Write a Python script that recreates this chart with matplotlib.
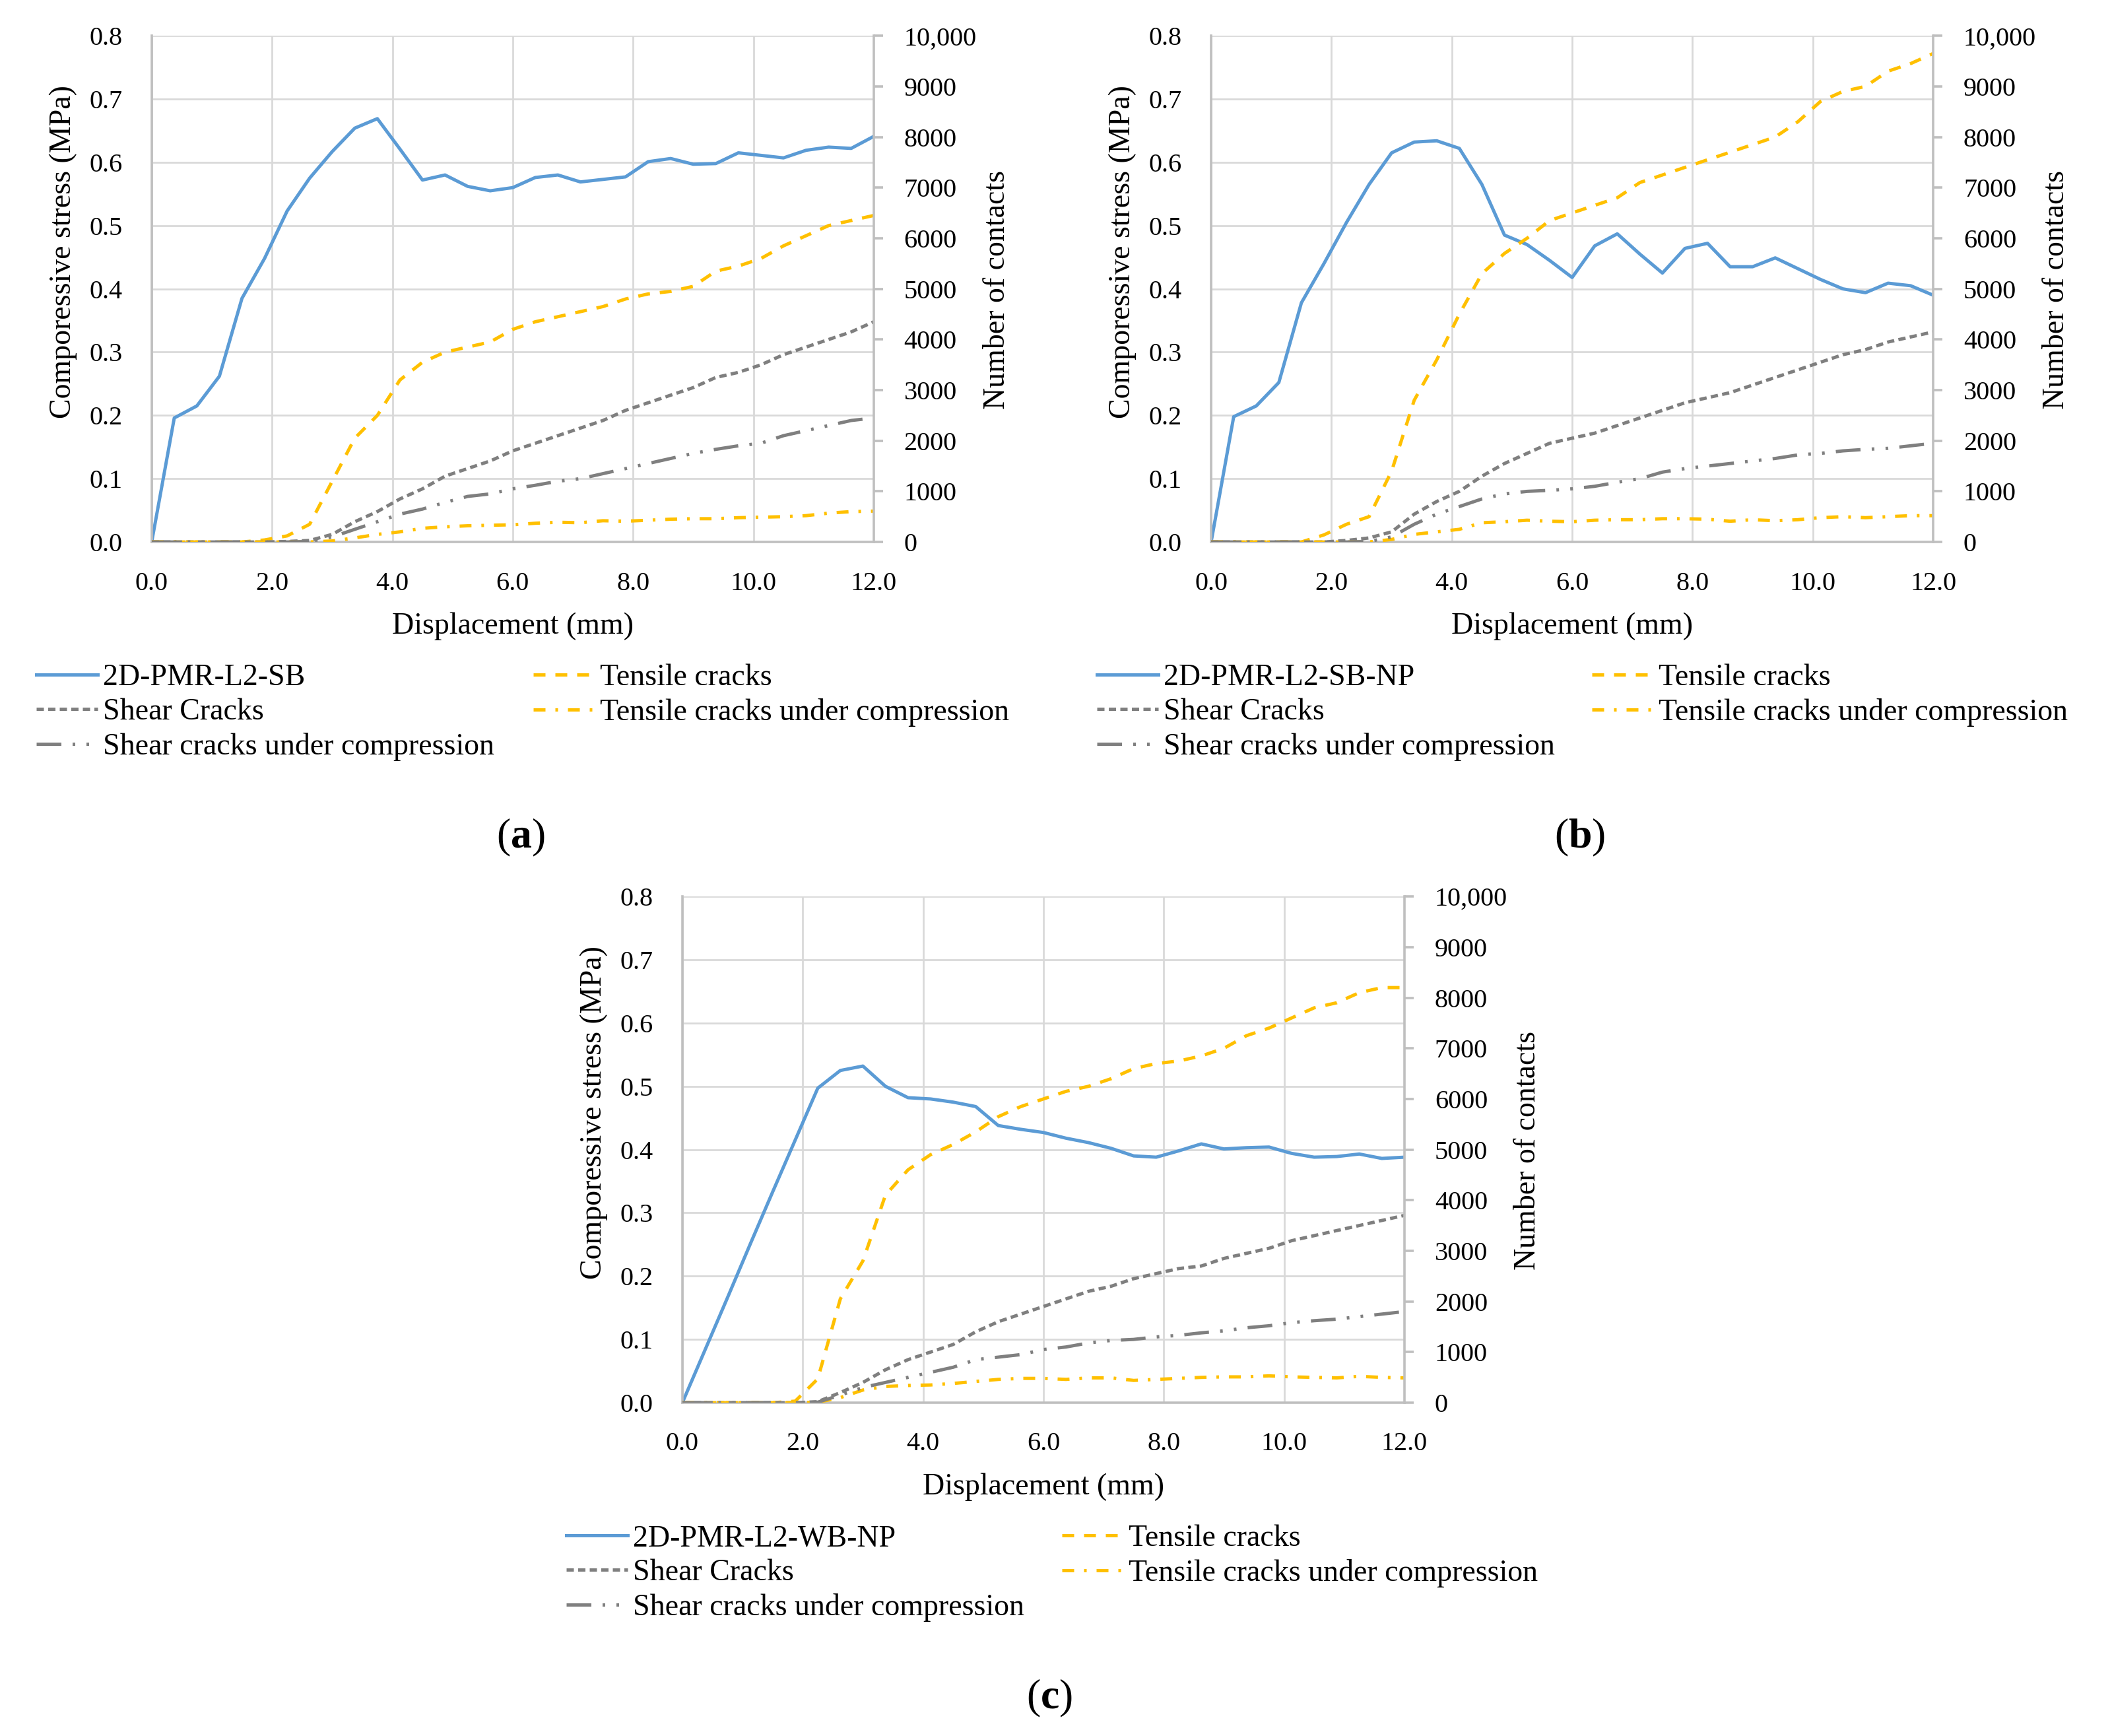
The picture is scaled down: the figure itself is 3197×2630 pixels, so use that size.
import matplotlib
matplotlib.use('Agg')
import matplotlib.pyplot as plt
from matplotlib.ticker import MultipleLocator, FuncFormatter

plt.rcParams['font.family'] = ['Liberation Serif', 'DejaVu Serif']
plt.rcParams['mathtext.fontset'] = 'custom'
plt.rcParams['mathtext.rm'] = 'Liberation Serif'
plt.rcParams['mathtext.bf'] = 'Liberation Serif:bold'

# ---------------- data ----------------
displacement = [0.0, 0.375, 0.75, 1.125, 1.5, 1.875, 2.25, 2.625, 3.0, 3.375, 3.75,
                4.125, 4.5, 4.875, 5.25, 5.625, 6.0, 6.375, 6.75, 7.125, 7.5, 7.875,
                8.25, 8.625, 9.0, 9.375, 9.75, 10.125, 10.5, 10.875, 11.25, 11.625, 12.0]

series_names = ["Tensile cracks", "Shear Cracks", "Tensile cracks under compression",
                "Shear cracks under compression"]

# (a) 2D-PMR-L2-SB
name_a = "2D-PMR-L2-SB"
stress_a = [0.000, 0.196, 0.215, 0.262, 0.385, 0.448, 0.523, 0.575, 0.617, 0.654, 0.669,
            0.621, 0.572, 0.580, 0.562, 0.555, 0.560, 0.576, 0.580, 0.569, 0.573, 0.577,
            0.601, 0.606, 0.597, 0.598, 0.615, 0.611, 0.607, 0.619, 0.624, 0.622, 0.641]
tensile_a = [0, 0, 0, 0, 0, 40, 120, 350, 1200, 2050, 2500, 3200, 3550, 3750, 3850, 3950,
             4200, 4350, 4450, 4550, 4650, 4800, 4900, 4950, 5050, 5350, 5450, 5600, 5850,
             6050, 6250, 6350, 6450]
shear_a = [0, 0, 0, 0, 0, 0, 10, 30, 150, 400, 600, 850, 1050, 1300, 1450, 1600, 1800,
           1950, 2100, 2250, 2400, 2600, 2750, 2900, 3050, 3250, 3350, 3500, 3700, 3850,
           4000, 4150, 4350]
tensile_comp_a = [0, 0, 0, 0, 0, 0, 0, 0, 20, 80, 150, 200, 270, 300, 320, 330, 340, 370,
                  390, 380, 420, 410, 430, 450, 460, 460, 480, 490, 500, 520, 570, 600, 610]
shear_comp_a = [0, 0, 0, 0, 0, 0, 0, 10, 100, 250, 400, 550, 650, 780, 900, 950, 1050,
                1120, 1200, 1250, 1350, 1450, 1550, 1650, 1750, 1830, 1900, 1950, 2100,
                2200, 2300, 2400, 2450]

# (b) 2D-PMR-L2-SB-NP
name_b = "2D-PMR-L2-SB-NP"
stress_b = [0.000, 0.198, 0.215, 0.252, 0.378, 0.440, 0.505, 0.565, 0.615, 0.632, 0.634,
            0.622, 0.565, 0.485, 0.470, 0.445, 0.418, 0.468, 0.487, 0.455, 0.425, 0.464,
            0.472, 0.435, 0.435, 0.449, 0.432, 0.415, 0.400, 0.394, 0.409, 0.405, 0.390]
tensile_b = [0, 0, 0, 0, 0, 140, 350, 500, 1400, 2800, 3600, 4500, 5300, 5700, 6000, 6350,
             6500, 6650, 6800, 7100, 7250, 7400, 7550, 7700, 7850, 8000, 8300, 8700, 8900,
             9000, 9300, 9450, 9650]
shear_b = [0, 0, 0, 0, 0, 0, 30, 80, 200, 550, 800, 1000, 1300, 1550, 1750, 1950, 2050,
           2150, 2300, 2450, 2600, 2750, 2850, 2950, 3100, 3250, 3400, 3550, 3700, 3800,
           3950, 4050, 4150]
tensile_comp_b = [0, 0, 0, 0, 0, 0, 0, 0, 50, 150, 200, 250, 380, 400, 430, 410, 400, 430,
                  440, 440, 460, 460, 450, 410, 440, 420, 440, 480, 500, 480, 500, 520, 520]
shear_comp_b = [0, 0, 0, 0, 0, 0, 0, 10, 100, 350, 550, 700, 850, 950, 1000, 1020, 1050,
                1100, 1180, 1250, 1380, 1450, 1500, 1550, 1600, 1650, 1720, 1750, 1800,
                1830, 1850, 1900, 1950]

# (c) 2D-PMR-L2-WB-NP
name_c = "2D-PMR-L2-WB-NP"
stress_c = [0.000, 0.083, 0.166, 0.250, 0.333, 0.415, 0.497, 0.525, 0.532, 0.500, 0.482,
            0.480, 0.475, 0.468, 0.438, 0.432, 0.427, 0.418, 0.411, 0.402, 0.390, 0.388,
            0.398, 0.409, 0.401, 0.403, 0.404, 0.394, 0.388, 0.389, 0.393, 0.386, 0.388]
tensile_c = [0, 0, 0, 0, 0, 30, 470, 2050, 2800, 4100, 4600, 4900, 5100, 5350, 5650, 5850,
             6000, 6150, 6250, 6400, 6600, 6700, 6750, 6850, 7000, 7250, 7400, 7600, 7800,
             7900, 8100, 8200, 8200]
shear_c = [0, 0, 0, 0, 0, 0, 20, 200, 400, 650, 850, 1000, 1150, 1400, 1600, 1750, 1900,
           2050, 2200, 2300, 2450, 2550, 2650, 2700, 2850, 2950, 3050, 3200, 3300, 3400,
           3500, 3600, 3700]
tensile_comp_c = [0, 0, 0, 0, 0, 0, 10, 100, 250, 320, 340, 350, 380, 420, 460, 480, 480,
                  460, 490, 490, 440, 460, 480, 500, 510, 510, 530, 510, 500, 490, 520, 500, 490]
shear_comp_c = [0, 0, 0, 0, 0, 0, 10, 150, 300, 400, 500, 600, 700, 850, 900, 950, 1050,
                1100, 1180, 1230, 1250, 1300, 1330, 1380, 1420, 1480, 1520, 1580, 1620,
                1650, 1700, 1750, 1800]

x_ticks = [0.0, 2.0, 4.0, 6.0, 8.0, 10.0, 12.0]

# ---------------- styles ----------------
BLUE = '#5B9BD5'
ORANGE = '#FFC000'
GRAY = '#7F7F7F'
GRID = '#D9D9D9'
AXIS = '#BFBFBF'
LW = 1.8
TICK_FS = 14.5
LAB_FS = 16.5

fig = plt.figure(figsize=(3197 / 200, 2630 / 200), dpi=200)


def panel(rect, name, stress, tensile, shear, tcomp, scomp, leg_x, leg_y, tag, tag_xy):
    ax = fig.add_axes(rect)
    ax2 = ax.twinx()

    l_blue, = ax.plot(displacement, stress, color=BLUE, lw=LW, solid_joinstyle='round')
    l_t, = ax2.plot(displacement, tensile, color=ORANGE, lw=LW, dashes=(3.6, 3.0))
    l_s, = ax2.plot(displacement, shear, color=GRAY, lw=LW, dashes=(2.2, 1.3))
    l_tc, = ax2.plot(displacement, tcomp, color=ORANGE, lw=LW, dashes=(3.6, 3.0, 0.8, 3.0))
    l_sc, = ax2.plot(displacement, scomp, color=GRAY, lw=LW,
                     dashes=(7.5, 3.4, 0.8, 3.4, 0.8, 3.4))

    ax.set_xlim(0, 12)
    ax.set_ylim(0, 0.8)
    ax2.set_ylim(0, 10000)
    ax.set_xticks(x_ticks)
    ax.xaxis.set_major_formatter(FuncFormatter(lambda v, p: f'{v:.1f}'))
    ax.yaxis.set_major_locator(MultipleLocator(0.1))
    ax.yaxis.set_major_formatter(FuncFormatter(lambda v, p: f'{v:.1f}'))
    ax2.yaxis.set_major_locator(MultipleLocator(1000))
    ax2.yaxis.set_major_formatter(
        FuncFormatter(lambda v, p: f'{v:,.0f}' if v >= 10000 else f'{v:.0f}'))

    ax.set_axisbelow(True)
    ax.grid(True, color=GRID, lw=1.0)
    for s in ('top', 'right'):
        ax.spines[s].set_visible(False)
    for s in ('left', 'bottom'):
        ax.spines[s].set_color(AXIS)
        ax.spines[s].set_linewidth(1.3)
    for s in ('top', 'left', 'bottom'):
        ax2.spines[s].set_visible(False)
    ax2.spines['right'].set_color(AXIS)
    ax2.spines['right'].set_linewidth(1.3)

    ax.tick_params(axis='both', length=0, pad=16, labelsize=TICK_FS, labelcolor='black')
    ax2.tick_params(axis='y', length=5, width=1.3, color=AXIS, pad=11.5,
                    labelsize=TICK_FS, labelcolor='black')

    ax.set_xlabel('Displacement (mm)', fontsize=LAB_FS, va='center')
    ax.xaxis.set_label_coords(0.5, -0.166)
    ax.set_ylabel('Comporessive stress (MPa)', fontsize=LAB_FS, va='center', ha='center')
    ax.yaxis.set_label_coords(-0.1225, 0.573)
    ax2.set_ylabel('Number of contacts', fontsize=LAB_FS, va='center', ha='center')
    ax2.yaxis.set_label_coords(1.171, 0.498)

    entries = [(l_blue, name, 0, 0), (l_s, series_names[1], 0, 1),
               (l_sc, series_names[3], 0, 2), (l_t, series_names[0], 1, 0),
               (l_tc, series_names[2], 1, 1)]
    for h, lab, col, row in entries:
        fig.legend([h], [lab], loc='center left', bbox_to_anchor=(leg_x[col], leg_y[row]),
                   frameon=False, borderpad=0, borderaxespad=0, handlelength=2.03,
                   handletextpad=0.17, fontsize=LAB_FS)

    fig.text(tag_xy[0], tag_xy[1], '(' + r'$\mathbf{' + tag + '}$' + ')', fontsize=23,
             ha='center', va='center')


rows_top = [0.6095, 0.5897, 0.5696]
rows_bot = [0.1137, 0.0939, 0.0738]

panel([0.0719, 0.6878, 0.3422, 0.2916], name_a, stress_a, tensile_a, shear_a,
      tensile_comp_a, shear_comp_a, [0.0172, 0.2527], rows_top, 'a', (0.2468, 0.5175))
panel([0.5740, 0.6878, 0.3422, 0.2916], name_b, stress_b, tensile_b, shear_b,
      tensile_comp_b, shear_comp_b, [0.5199, 0.7545], rows_top, 'b', (0.7488, 0.5175))
panel([0.3234, 0.1920, 0.3422, 0.2916], name_c, stress_c, tensile_c, shear_c,
      tensile_comp_c, shear_comp_c, [0.2684, 0.5033], rows_bot, 'c', (0.4973, 0.0217))

fig.savefig('out.png', dpi=200)
